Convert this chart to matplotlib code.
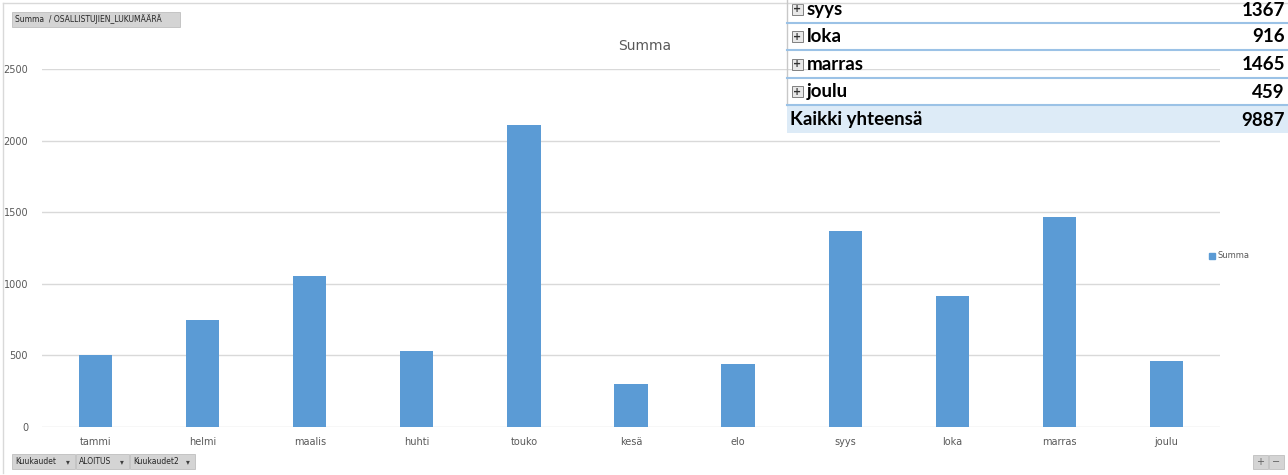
import numpy as np
import matplotlib.pyplot as plt
from matplotlib.patches import Rectangle
from matplotlib.lines import Line2D

months = ['tammi', 'helmi', 'maalis', 'huhti', 'touko', 'kesä',
          'elo', 'syys', 'loka', 'marras', 'joulu']
summa = [502, 745, 1055, 530, 2110, 297, 441, 1367, 916, 1465, 459]
yticks = [0, 500, 1000, 1500, 2000, 2500]
table_rows = months[-4:]
total_label = 'Kaikki yhteensä'

W, H = 1288, 475
BAR = '#5B9BD5'
GRID = '#D9D9D9'
TXT = '#595959'


def fx(x):
    return x / W


def fy(y):
    return 1 - y / H


fig = plt.figure(figsize=(W / 100, H / 100), dpi=100)
fig.patch.set_facecolor('white')

ax = fig.add_axes([fx(42), fy(427), fx(1220) - fx(42), fy(69) - fy(427)])
x = np.arange(len(months))
ax.bar(x, summa, width=0.31, color=BAR, label='Summa', zorder=3)
ax.set_xlim(-0.5, len(months) - 0.5)
ax.set_ylim(0, 2500)
ax.set_yticks(yticks)
ax.set_yticklabels([str(v) for v in yticks])
ax.set_xticks(x)
ax.set_xticklabels(months)
ax.tick_params(length=0, colors=TXT, labelsize=7)
ax.tick_params(axis='y', pad=10)
ax.tick_params(axis='x', pad=7)
ax.grid(axis='y', color=GRID, lw=1, zorder=0)
for s in ax.spines.values():
    s.set_visible(False)
ax.set_axisbelow(True)

fig.text(fx(645), fy(46), 'Summa', ha='center', va='center', fontsize=10, color=TXT)

# chart border
fig.add_artist(Line2D([fx(3), fx(3)], [fy(473), fy(3)], color=GRID, lw=1))
fig.add_artist(Line2D([fx(3), fx(1288)], [fy(3), fy(3)], color=GRID, lw=1))

# legend
fig.add_artist(Rectangle((fx(1209), fy(259)), fx(6), 6 / H, color=BAR))
fig.text(fx(1218), fy(256), 'Summa', ha='left', va='center', fontsize=6, color=TXT)


def button(x0, x1, y0, y1, label, arrow=False):
    fig.add_artist(Rectangle((fx(x0), fy(y1)), fx(x1 - x0), (y1 - y0) / H,
                             facecolor='#D4D4D4', edgecolor='#BFBFBF', lw=0.6))
    fig.text(fx(x0 + 3), fy((y0 + y1) / 2), label, ha='left', va='center',
             fontsize=5.5, color='#262626')
    if arrow:
        fig.text(fx(x1 - 7), fy((y0 + y1) / 2), '▾', ha='center', va='center',
                 fontsize=5.5, color='#404040')


button(12, 180, 12, 27, 'Summa  / OSALLISTUJIEN_LUKUMÄÄRÄ')
button(12, 75, 454, 469, 'Kuukaudet', True)
button(76, 129, 454, 469, 'ALOITUS', True)
button(130, 195, 454, 469, 'Kuukaudet2', True)
button(1253, 1268, 455, 469, '')
button(1269, 1284, 455, 469, '')
fig.text(fx(1260.5), fy(462), '+', ha='center', va='center', fontsize=7, color='#606060')
fig.text(fx(1276.5), fy(462), '−', ha='center', va='center', fontsize=7, color='#606060')

# pivot table overlay
fig.add_artist(Rectangle((fx(787), fy(133)), 1 - fx(787), 28 / H,
                         facecolor='#DDEBF7', edgecolor='none'))
fig.add_artist(Line2D([fx(787), fx(787)], [fy(105), fy(0)], color='#C8C8C8', lw=1))
for yl in [22.5, 50, 78.5, 105]:
    fig.add_artist(Line2D([fx(787), 1], [fy(yl), fy(yl)], color='#9BC2E6', lw=1.5))

FS = 13.5
row_y = [10, 37, 65, 92]
for name, yc in zip(table_rows, row_y):
    val = summa[months.index(name)]
    fig.add_artist(Rectangle((fx(792), fy(yc + 5)), fx(11), 11 / H,
                             facecolor='#E8E8E8', edgecolor='#808080', lw=0.7))
    fig.text(fx(797.5), fy(yc - 0.5), '+', ha='center', va='center', fontsize=7,
             fontweight='bold', color='#303030')
    fig.text(fx(807), fy(yc), name, ha='left', va='center', fontsize=FS,
             fontweight='bold', family='Lato', color='black')
    fig.text(fx(1285), fy(yc), str(val), ha='right', va='center', fontsize=FS,
             fontweight='bold', family='Lato', color='black')

fig.text(fx(790), fy(120), total_label, ha='left', va='center', fontsize=FS,
         fontweight='bold', family='Lato', color='black')
fig.text(fx(1285), fy(120), str(sum(summa)), ha='right', va='center', fontsize=FS,
         fontweight='bold', family='Lato', color='black')

fig.savefig('out.png', dpi=100)
